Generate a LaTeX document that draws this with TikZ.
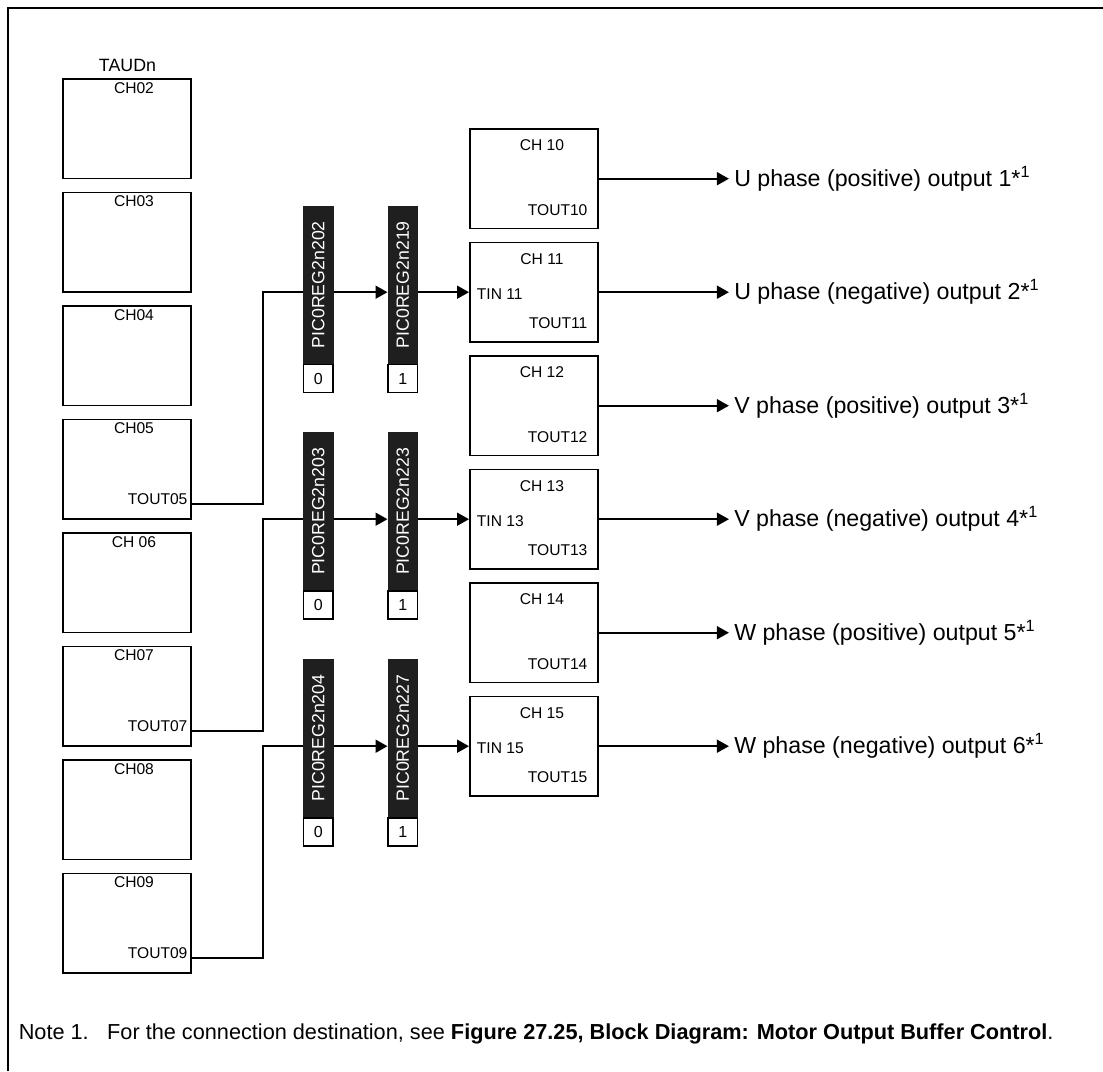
\documentclass[tikz,border=0pt]{standalone}
\usepackage{fontspec}
\setmainfont{Liberation Sans}
\usetikzlibrary{arrows.meta,calc}
\begin{document}
\begin{tikzpicture}[x=1pt,y=-1pt,
  chbox/.style={draw, line width=1.9pt, minimum width=128pt, minimum height=99.5pt, inner sep=0pt, anchor=north west},
  lbl/.style={inner sep=0pt, font=\fontsize{15.6}{18}\selectfont},
  regbar/.style={draw=black!88, fill=black!88, line width=1pt, minimum width=29.5pt, minimum height=157pt, inner sep=0pt, anchor=north west, text=white, font=\fontsize{17.7}{20}\selectfont},
  regbit/.style={draw, fill=white, line width=1.6pt, minimum width=29.5pt, minimum height=28pt, inner sep=0pt, anchor=north, font=\fontsize{16}{18}\selectfont},
  conn/.style={line width=1.7pt},
  arr/.style={conn, -{Triangle[length=12pt,width=13pt]}},
  outlbl/.style={anchor=west, inner sep=0pt, xshift=4.5pt, font=\fontsize{23.2}{26}\selectfont},
  notelbl/.style={anchor=base west, inner sep=0pt, font=\fontsize{21.7}{24}\selectfont}
]
\useasboundingbox (0,0) rectangle (1103,1071);
% frame
\draw[line width=2.6pt] (1103,8) -- (8,8) -- (8,1071);

% TAUDn
\node[lbl, anchor=base, font=\fontsize{17.8}{20}\selectfont] (taud) at (127.5,71.7) {TAUDn};

% left channel boxes
\foreach \n/\t [count=\i from 0] in {2/CH02,3/CH03,4/CH04,5/CH05,6/CH 06,7/CH07,8/CH08,9/CH09}{
  \node[chbox] (c\n) at (62,78+113.5*\i) {};
  \node[lbl, anchor=base] (c\n l) at ($(c\n.north)+(7,15)$) {\t};
}
\foreach \n in {5,7,9}{
  \node[lbl, anchor=base east] (c\n o) at ($(c\n.north east)+(-4.3,85.5)$) {TOUT0\n};
  \coordinate (tout\n) at ($(c\n.north east)+(0,85.5)$);
}

% right channel boxes
\foreach \n [count=\i from 0] in {10,11,12,13,14,15}{
  \node[chbox] (ch\n) at (469,128+113.5*\i) {};
  \node[lbl, anchor=base] (ch\n l) at ($(ch\n.north)+(8,22.7)$) {CH \n};
  \node[lbl, anchor=base east] (ch\n o) at ($(ch\n.north east)+(-11.3,87)$) {TOUT\n};
}
\foreach \n in {11,13,15}{
  \node[lbl, anchor=base west] (ch\n i) at ($(ch\n.west)+(7.7,7)$) {TIN \n};
}

% registers
\foreach \g/\a/\b [count=\i from 0] in {1/202/219,2/203/223,3/204/227}{
  \node[regbar] (ra\g) at (303,205.7+226.65*\i) {\rotatebox{90}{PIC0REG2n\a}};
  \node[regbit] (za\g) at (ra\g.south) {0};
  \node[regbar] (rb\g) at (387.5,205.7+226.65*\i) {\rotatebox{90}{PIC0REG2n\b}};
  \node[regbit] (zb\g) at (rb\g.south) {1};
}

% connections
\foreach \s/\g/\d in {5/1/11,7/2/13,9/3/15}{
  \draw[conn] (tout\s) -- ++(71,0) |- (ra\g.west |- ch\d.west);
  \draw[arr] (ra\g.east |- ch\d.west) -- (rb\g.west |- ch\d.west);
  \draw[arr] (rb\g.east |- ch\d.west) -- (ch\d.west);
}

% outputs
\foreach \n/\t in {10/U phase (positive) output 1,11/U phase (negative) output 2,12/V phase (positive) output 3,13/V phase (negative) output 4,14/W phase (positive) output 5,15/W phase (negative) output 6}{
  \draw[arr] (ch\n.east) -- ++(130,0) node[outlbl] (out\n) {\t*\textsuperscript{1}};
}

% note
\node[notelbl] (note1) at (18.6,1039) {Note 1.};
\node[notelbl] (note2) at (107,1039) {For the connection destination, see \textbf{Figure 27.25, Block Diagram: Motor Output Buffer Control}.};
\end{tikzpicture}
\end{document}
